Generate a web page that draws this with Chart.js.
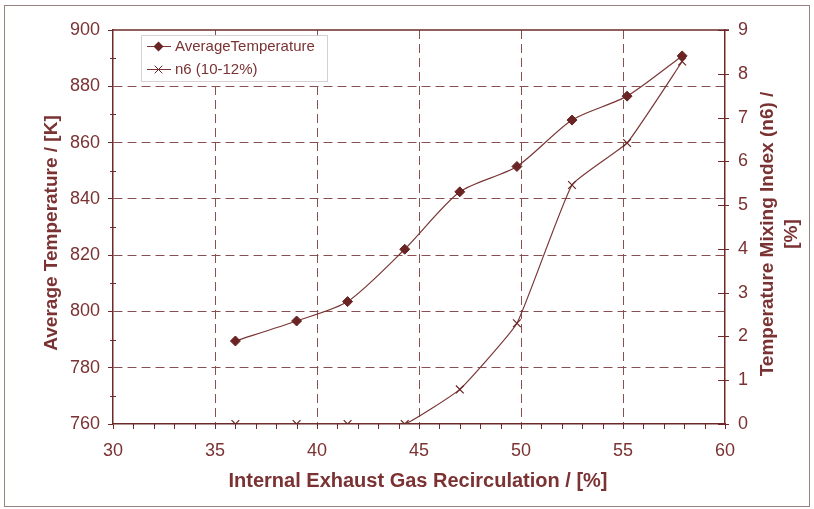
<!DOCTYPE html>
<html>
<head>
<meta charset="utf-8">
<script src="https://cdn.jsdelivr.net/npm/chart.js@4.4.1/dist/chart.umd.min.js"></script>
<style>
    html, body { margin: 0; padding: 0; background: #fff; }
    #wrap { position: relative; width: 814px; height: 509px; }
</style>
</head>
<body>
<div id="wrap"><canvas id="egrChart" width="814" height="509"></canvas></div>
<script>
// Data
const egrValues = [36.0, 39.0, 41.5, 44.3, 47.0, 49.8, 52.5, 55.2, 57.9];
const avgTemperature = [789.5, 796.6, 803.5, 822.1, 842.5, 851.5, 868.0, 876.5, 890.8];
const n6Values = [0, 0, 0, 0, 0.79, 2.3, 5.46, 6.42, 8.28];

// Tick labels
const xTickValues = [30, 35, 40, 45, 50, 55, 60];
const tempTickValues = [760, 780, 800, 820, 840, 860, 880, 900];
const n6TickValues = [0, 1, 2, 3, 4, 5, 6, 7, 8, 9];

const seriesNames = ['AverageTemperature', 'n6 (10-12%)'];

// Colours
const colors = {
    text: '#7a3232',
    axis: '#6e2a2a',
    line: '#7a3636',
    marker: '#6a2424',
    grid: '#8a5050',
    frame: '#9b8080',
    legendBorder: '#d6d0d0'
};
const FONT = 'Arial, "Liberation Sans", sans-serif';

function toPoints(ys) {
    return egrValues.map((x, i) => ({ x: x, y: ys[i] }));
}

function useTicks(values) {
    return function(axis) {
        axis.ticks = values.map(v => ({ value: v }));
    };
}

// hide grid lines that sit on the frame
function gridColor(min, max) {
    return function(ctx) {
        const v = ctx.tick ? ctx.tick.value : null;
        return (v === min || v === max) ? 'rgba(0,0,0,0)' : colors.grid;
    };
}

function drawDiamond(ctx, x, y, r) {
    ctx.beginPath();
    ctx.moveTo(x, y - r);
    ctx.lineTo(x + r, y);
    ctx.lineTo(x, y + r);
    ctx.lineTo(x - r, y);
    ctx.closePath();
    ctx.fill();
}

function drawCross(ctx, x, y, r) {
    ctx.beginPath();
    ctx.moveTo(x - r, y - r);
    ctx.lineTo(x + r, y + r);
    ctx.moveTo(x + r, y - r);
    ctx.lineTo(x - r, y + r);
    ctx.stroke();
}

// Frame, minor ticks, titles and legend
const decorPlugin = {
    id: 'decor',
    afterDraw(chart) {
        const { ctx, chartArea: a, scales } = chart;
        ctx.save();

        // outer frame
        ctx.strokeStyle = colors.frame;
        ctx.lineWidth = 1;
        ctx.strokeRect(4.5, 5.5, 805, 501);

        // top border of plot area
        ctx.strokeStyle = colors.axis;
        ctx.lineWidth = 1.5;
        ctx.beginPath();
        ctx.moveTo(a.left, a.top);
        ctx.lineTo(a.right + 4, a.top);
        ctx.stroke();

        ctx.lineWidth = 1;
        ctx.beginPath();
        // minor ticks on x (every 1)
        for (let v = scales.x.min + 1; v < scales.x.max; v++) {
            const px = Math.round(scales.x.getPixelForValue(v)) + 0.5;
            ctx.moveTo(px, a.bottom);
            ctx.lineTo(px, a.bottom + 5);
        }
        // minor ticks on left axis (every 10)
        for (let v = scales.y.min + 10; v < scales.y.max; v += 20) {
            const py = Math.round(scales.y.getPixelForValue(v)) + 0.5;
            ctx.moveTo(a.left - 3, py);
            ctx.lineTo(a.left + 3, py);
        }
        // right axis ticks
        n6TickValues.forEach(v => {
            const py = Math.round(scales.y2.getPixelForValue(v)) + 0.5;
            ctx.moveTo(a.right - 7, py);
            ctx.lineTo(a.right + 4, py);
        });
        ctx.stroke();

        // axis titles
        ctx.fillStyle = colors.text;
        ctx.textAlign = 'center';
        ctx.textBaseline = 'middle';
        ctx.font = 'bold 20px ' + FONT;
        ctx.fillText('Internal Exhaust Gas Recirculation / [%]', 418, 481);

        ctx.font = 'bold 19px ' + FONT;
        ctx.save();
        ctx.translate(52, 233);
        ctx.rotate(-Math.PI / 2);
        ctx.fillText('Average Temperature / [K]', 0, 0);
        ctx.restore();

        ctx.save();
        ctx.translate(768, 234);
        ctx.rotate(-Math.PI / 2);
        ctx.fillText('Temperature Mixing Index (n6) /', 0, 0);
        ctx.fillText('[%]', 0, 24);
        ctx.restore();

        // legend
        const lx = 141.5, ly = 35.5, lw = 186, lh = 46;
        ctx.fillStyle = '#fff';
        ctx.fillRect(lx, ly, lw, lh);
        ctx.strokeStyle = colors.legendBorder;
        ctx.strokeRect(lx, ly, lw, lh);

        const rows = [46, 69];
        ctx.strokeStyle = colors.line;
        ctx.lineWidth = 1;
        rows.forEach(y => {
            ctx.beginPath();
            ctx.moveTo(147, y + 0.5);
            ctx.lineTo(171, y + 0.5);
            ctx.stroke();
        });
        ctx.fillStyle = colors.marker;
        drawDiamond(ctx, 158.5, rows[0] + 0.5, 5);
        ctx.strokeStyle = colors.marker;
        drawCross(ctx, 158.5, rows[1] + 0.5, 3.8);

        ctx.fillStyle = colors.text;
        ctx.font = '15px ' + FONT;
        ctx.textAlign = 'left';
        seriesNames.forEach((name, i) => ctx.fillText(name, 175, rows[i] + 1));

        ctx.restore();
    }
};

const ctx = document.getElementById('egrChart').getContext('2d');
new Chart(ctx, {
    type: 'line',
    data: {
        datasets: [{
            label: seriesNames[0],
            data: toPoints(avgTemperature),
            yAxisID: 'y',
            borderColor: colors.line,
            borderWidth: 1.2,
            tension: 0.25,
            pointStyle: 'rectRot',
            pointRadius: 5,
            pointBackgroundColor: colors.marker,
            pointBorderColor: colors.marker,
            pointBorderWidth: 1
        }, {
            label: seriesNames[1],
            data: toPoints(n6Values),
            yAxisID: 'y2',
            borderColor: colors.line,
            borderWidth: 1.2,
            tension: 0.12,
            pointStyle: 'crossRot',
            pointRadius: 5.5,
            pointBorderColor: colors.marker,
            pointBorderWidth: 1.2
        }]
    },
    options: {
        responsive: false,
        animation: false,
        layout: { padding: { top: 30, left: 0, right: 0, bottom: 0 } },
        plugins: {
            legend: { display: false },
            tooltip: { enabled: false }
        },
        scales: {
            x: {
                type: 'linear',
                min: 30,
                max: 60,
                afterBuildTicks: useTicks(xTickValues),
                afterFit(scale) { scale.height = 85; },
                grid: {
                    color: gridColor(30, 60),
                    tickColor: colors.axis,
                    tickLength: 5,
                    lineWidth: 1
                },
                border: { display: true, color: colors.axis, width: 1.5, dash: [9, 5] },
                ticks: {
                    color: colors.text,
                    font: { family: FONT, size: 18 },
                    padding: 11,
                    maxRotation: 0
                }
            },
            y: {
                type: 'linear',
                position: 'left',
                min: 760,
                max: 900,
                afterBuildTicks: useTicks(tempTickValues),
                afterFit(scale) { scale.width = 113; },
                grid: {
                    color: gridColor(760, 900),
                    tickColor: colors.axis,
                    tickLength: 5,
                    lineWidth: 1
                },
                border: { display: true, color: colors.axis, width: 1.5, dash: [9, 5] },
                ticks: {
                    color: colors.text,
                    font: { family: FONT, size: 18 },
                    padding: 8
                }
            },
            y2: {
                type: 'linear',
                position: 'right',
                min: 0,
                max: 9,
                afterBuildTicks: useTicks(n6TickValues),
                afterFit(scale) { scale.width = 89; },
                grid: { display: false, drawTicks: false },
                border: { display: true, color: colors.axis, width: 1.5 },
                ticks: {
                    color: colors.text,
                    font: { family: FONT, size: 18 },
                    padding: 13
                }
            }
        }
    },
    plugins: [decorPlugin]
});
</script>
</body>
</html>
